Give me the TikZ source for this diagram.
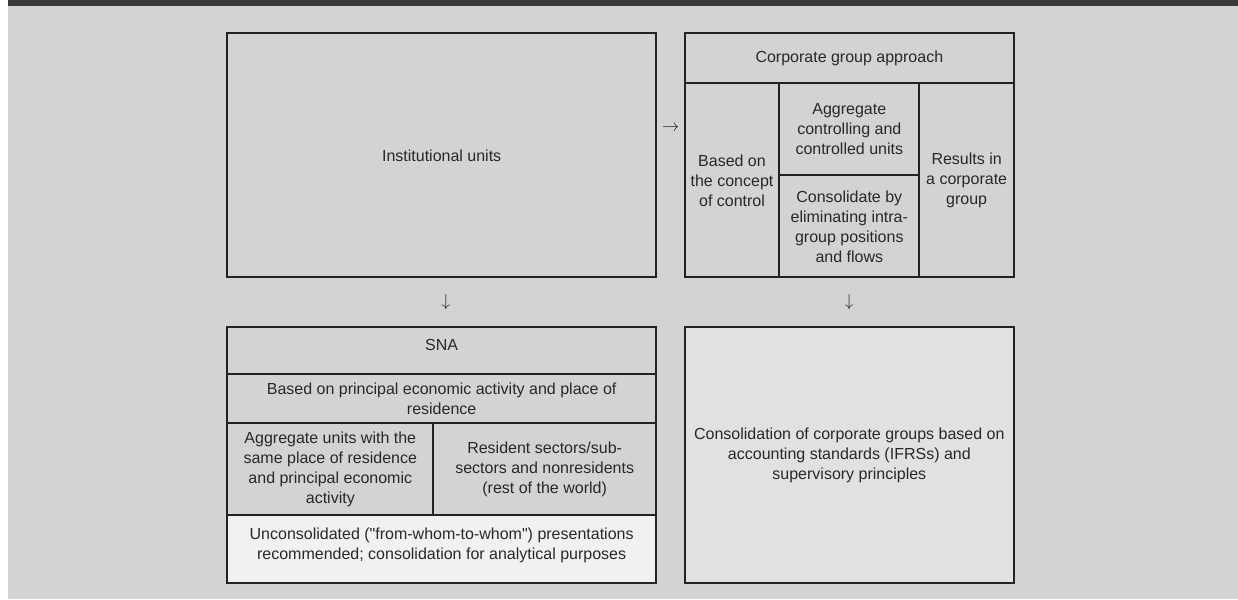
\documentclass[tikz,border=0pt]{standalone}
\usepackage{fontspec}
\setmainfont{Liberation Sans}[Ligatures=TeXOff]
\definecolor{bg}{RGB}{211,211,211}
\definecolor{band}{RGB}{58,58,58}
\definecolor{edge}{RGB}{35,35,35}
\definecolor{txt}{RGB}{40,40,40}
\definecolor{light}{RGB}{224,225,227}
\definecolor{lighter}{RGB}{240,241,242}
\begin{document}
\begin{tikzpicture}[x=1pt,y=-1pt,
  cell/.style={draw=edge, line width=2pt, fill=bg, rectangle, inner sep=0pt,
    align=center, text=txt, font=\fontsize{16}{20}\selectfont},
  glyph/.style={inner sep=0pt, text=txt, font=\fontsize{16}{20}\selectfont}]
\useasboundingbox (0,0) rectangle (1238,599);
\fill[bg] (8,0) rectangle (1238,599);
\fill[band] (8,0) rectangle (1238,6);

% top left
\node[cell, minimum width=428.7pt, minimum height=244pt] (inst) at (441.65,155.3) {Institutional units};

% top right
\node[cell, minimum width=329.3pt, minimum height=50pt] (cga) at (849.35,58.3) {Corporate group approach};
\node[cell, minimum width=94.6pt, minimum height=194pt] (ctrl) at (732,180.3) {Based on\\the concept\\of control};
\node[cell, minimum width=140pt, minimum height=92pt] (aggr) at (849.3,129.3) {Aggregate\\controlling and\\controlled units};
\node[cell, minimum width=140pt, minimum height=102pt] (cons) at (849.3,226.3) {Consolidate by\\eliminating intra-\\group positions\\and flows};
\node[cell, minimum width=94.7pt, minimum height=194pt] (res) at (966.65,180.3) {Results in\\a corporate\\group};

% bottom left
\node[cell, minimum width=428.7pt, minimum height=47pt, text depth=12pt] (sna) at (441.65,350.8) {SNA};
\node[cell, minimum width=428.7pt, minimum height=49pt] (based) at (441.65,398.8) {Based on principal economic activity and place of\\residence};
\node[cell, minimum width=206pt, minimum height=92pt] (aggu) at (330.3,469.3) {Aggregate units with the\\same place of residence\\and principal economic\\activity};
\node[cell, minimum width=222.7pt, minimum height=92pt] (rsec) at (544.65,469.3) {Resident sectors/sub-\\sectors and nonresidents\\(rest of the world)};
\node[cell, fill=lighter, minimum width=428.7pt, minimum height=67.4pt] (uncons) at (441.65,549) {Unconsolidated ("from-whom-to-whom") presentations\\recommended; consolidation for analytical purposes\\[-16pt]\strut};

% bottom right
\node[cell, fill=light, minimum width=329.3pt, minimum height=255.4pt] (ifrs) at (849.35,455) {Consolidation of corporate groups based on\\accounting standards (IFRSs) and\\supervisory principles};

% arrows
\node[glyph] (arr1) at (670.7,128.3) {$\rightarrow$};
\node[glyph] (arr2) at (446,301.7) {$\downarrow$};
\node[glyph] (arr3) at (849.3,301.7) {$\downarrow$};
\end{tikzpicture}
\end{document}
